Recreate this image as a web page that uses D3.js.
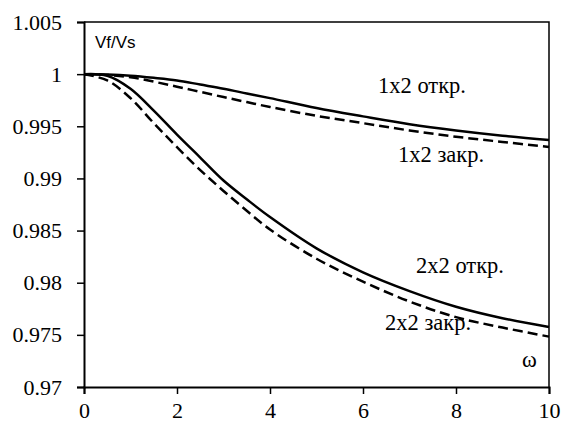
<!DOCTYPE html>
<html>
<head>
<meta charset="utf-8">
<script src="https://cdn.jsdelivr.net/npm/d3@7"></script>
<style>
  body { margin: 0; background: #fff; }
  svg { display: block; }
</style>
</head>
<body>
<div id="chart"></div>
<script>
// Frequency (omega) values.
const omega = [0, 0.5, 1, 1.5, 2, 2.5, 3, 3.5, 4, 5, 6, 7, 8, 9, 10];

// Vf/Vs for each configuration.
const open1x2   = [1.0, 0.99996, 0.99985, 0.99965, 0.9994, 0.9990, 0.9986, 0.99815, 0.9977, 0.99675, 0.99595, 0.9952, 0.9946, 0.9941, 0.99369];
const closed1x2 = [1.0, 0.99992, 0.9997, 0.99928, 0.9988, 0.9983, 0.9978, 0.99732, 0.99685, 0.9960, 0.9953, 0.9946, 0.9940, 0.9935, 0.99302];
const open2x2   = [1.0, 0.99985, 0.9986, 0.9965, 0.9942, 0.9920, 0.9898, 0.9880, 0.9863, 0.9833, 0.9810, 0.9792, 0.9777, 0.9766, 0.97576];
const closed2x2 = [1.0, 0.9994, 0.9977, 0.9953, 0.9930, 0.9908, 0.9888, 0.9869, 0.9851, 0.9823, 0.9801, 0.9782, 0.9767, 0.9757, 0.97483];

const xTicks = [0, 2, 4, 6, 8, 10];
const yTicks = [0.97, 0.975, 0.98, 0.985, 0.99, 0.995, 1, 1.005];

const serif = '"Liberation Serif", "Times New Roman", serif';

const width = 561, height = 423;
const margin = {top: 22, right: 12, bottom: 36, left: 84};

const svg = d3.select('#chart').append('svg')
  .attr('width', width)
  .attr('height', height);

const x = d3.scaleLinear().domain([0, 10]).range([margin.left, width - margin.right]);
const y = d3.scaleLinear().domain([0.97, 1.005]).range([height - margin.bottom, margin.top]);

// Plot frame (top and right).
svg.append('path')
  .attr('d', 'M' + x(0) + ',' + y(1.005) + 'H' + x(10) + 'V' + y(0.97))
  .attr('fill', 'none')
  .attr('stroke', '#000')
  .attr('stroke-width', 1.5);

// Axes.
const xAxis = svg.append('g')
  .attr('transform', 'translate(0,' + y(0.97) + ')')
  .call(d3.axisBottom(x).tickValues(xTicks).tickSize(7).tickPadding(8).tickFormat(d3.format('d')));

const yAxis = svg.append('g')
  .attr('transform', 'translate(' + x(0) + ',0)')
  .call(d3.axisLeft(y).tickValues(yTicks).tickSize(7).tickPadding(15).tickFormat(d => String(d)));

[xAxis, yAxis].forEach(function(g) {
  g.attr('font-family', serif).attr('font-size', 22);
  g.select('.domain').attr('stroke-width', 2);
  g.selectAll('.tick line').attr('stroke-width', 1.5);
  g.selectAll('.tick text').attr('font-family', serif).attr('font-size', 22).attr('fill', '#000');
});

// Curves.
const line = d3.line()
  .x((d, i) => x(omega[i]))
  .y(d => y(d))
  .curve(d3.curveCatmullRom.alpha(0.5));

const series = [
  {values: open1x2, dash: null},
  {values: closed1x2, dash: '10,5'},
  {values: open2x2, dash: null},
  {values: closed2x2, dash: '10,5'}
];

svg.selectAll('path.curve')
  .data(series)
  .join('path')
  .attr('class', 'curve')
  .attr('d', d => line(d.values))
  .attr('fill', 'none')
  .attr('stroke', '#000')
  .attr('stroke-width', 2.5)
  .attr('stroke-dasharray', d => d.dash);

// Labels.
const labels = [
  {text: '1x2 откр.', x: 378, y: 93},
  {text: '1x2 закр.', x: 398, y: 162},
  {text: '2x2 откр.', x: 416, y: 273},
  {text: '2x2 закр.', x: 385, y: 330},
  {text: 'ω', x: 522, y: 367}
];

svg.selectAll('text.curve-label')
  .data(labels)
  .join('text')
  .attr('class', 'curve-label')
  .attr('x', d => d.x)
  .attr('y', d => d.y)
  .attr('font-family', serif)
  .attr('font-size', 22.5)
  .text(d => d.text);

svg.append('text')
  .attr('x', 95)
  .attr('y', 48)
  .attr('font-family', '"Liberation Sans", Arial, sans-serif')
  .attr('font-size', 17)
  .text('Vf/Vs');
</script>
</body>
</html>
